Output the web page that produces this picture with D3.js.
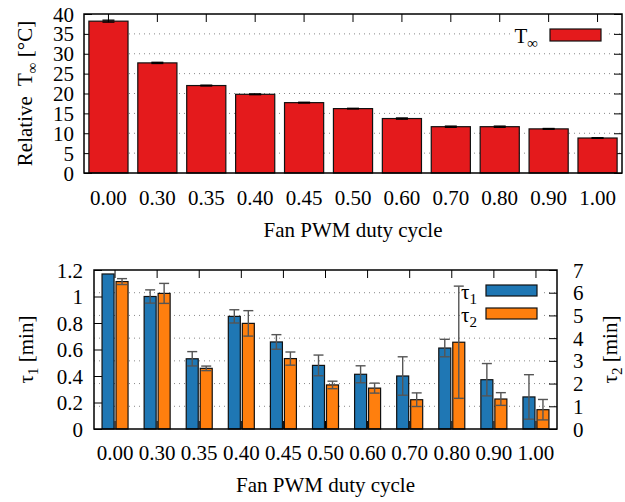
<!DOCTYPE html>
<html>
<head>
<meta charset="utf-8">
<script src="https://cdn.jsdelivr.net/npm/d3@7"></script>
<style>
  html, body { margin: 0; padding: 0; background: #fff; }
  svg { display: block; }
  svg text { font-family: "Liberation Serif", "Tinos", "DejaVu Serif", serif; }
  .grid { stroke: #888; stroke-width: 1; stroke-dasharray: 1 4; }
  .axis text { font-size: 21px; fill: #000; }
  .axis line { stroke: #000; stroke-width: 1; }
  .lbl { font-size: 21px; fill: #000; white-space: pre; }
</style>
</head>
<body>
<script>
// values
const categories = ["0.00", "0.30", "0.35", "0.40", "0.45", "0.50", "0.60", "0.70", "0.80", "0.90", "1.00"];

const tInf = [38.2, 27.7, 22.0, 19.8, 17.7, 16.2, 13.7, 11.65, 11.65, 11.1, 8.8];
const tInfErr = [0.25, 0.15, 0.1, 0.1, 0.1, 0.08, 0.15, 0.15, 0.15, 0.1, 0.08];

const tau1 = [1.17, 1.0, 0.53, 0.85, 0.657, 0.48, 0.413, 0.40, 0.611, 0.372, 0.242];
const tau1Err = [0, 0.05, 0.054, 0.05, 0.055, 0.078, 0.064, 0.145, 0.066, 0.122, 0.168];

const tau2 = [6.49, 5.97, 2.67, 4.65, 3.1, 1.94, 1.8, 1.29, 3.82, 1.32, 0.85];
const tau2Err = [0.13, 0.44, 0.1, 0.56, 0.29, 0.165, 0.22, 0.3, 2.47, 0.28, 0.45];

const tempTicks = [0, 5, 10, 15, 20, 25, 30, 35, 40];
const tau1Ticks = [0, 0.2, 0.4, 0.6, 0.8, 1.0, 1.2];
const tau2Ticks = [0, 1, 2, 3, 4, 5, 6, 7];

(function () {
  "use strict";

  const RED = "#e41a1c";
  const BLUE = "#1f77b4";
  const ORANGE = "#ff7f0e";

  const svg = d3.select("body").append("svg").attr("width", 625).attr("height", 502);

  // text with a subscript part, e.g. T∞ or τ1
  function subText(sel, main, sub, rest) {
    sel.append("tspan").text(main);
    sel.append("tspan").attr("dy", 5).attr("font-size", "15px").text(sub);
    if (rest) sel.append("tspan").attr("dy", -5).text(rest);
    return sel;
  }

  function styleAxis(g) {
    g.attr("class", "axis").attr("font-size", null).attr("font-family", null);
    g.select(".domain").remove();
  }

  function drawTop() {
    const L = 84, R = 622, T = 14, B = 173;
    const x = d3.scaleBand().domain(categories).range([L, R]).paddingInner(0.2).paddingOuter(0.1);
    const y = d3.scaleLinear().domain([0, 40]).range([B, T]);
    const g = svg.append("g");

    g.selectAll("line.grid")
      .data(tempTicks.filter((v) => v > 0 && v < 40))
      .join("line")
      .attr("class", "grid")
      .attr("x1", L).attr("x2", R)
      .attr("y1", (d) => y(d)).attr("y2", (d) => y(d));

    // opaque key background
    g.append("rect").attr("x", 513).attr("y", 24).attr("width", 93).attr("height", 24).attr("fill", "#fff");

    g.append("g").attr("transform", `translate(${L},0)`)
      .call(d3.axisLeft(y).tickValues(tempTicks).tickSize(-8).tickPadding(10).tickFormat(d3.format("d")))
      .call(styleAxis)
      .selectAll("text").attr("dy", 7);
    g.append("g").attr("transform", `translate(${R},0)`)
      .call(d3.axisRight(y).tickValues(tempTicks).tickSize(-8).tickFormat(""))
      .call(styleAxis);
    g.append("g").attr("transform", `translate(0,${T})`)
      .call(d3.axisTop(x).tickSize(-8).tickFormat(""))
      .call(styleAxis);
    g.append("g").attr("transform", `translate(0,${B})`)
      .call(d3.axisBottom(x).tickSize(-8))
      .call(styleAxis)
      .selectAll("text").attr("y", 32).attr("dy", 0);

    g.selectAll("rect.bar")
      .data(tInf)
      .join("rect")
      .attr("class", "bar")
      .attr("x", (d, i) => x(categories[i]))
      .attr("width", x.bandwidth())
      .attr("y", (d) => y(d))
      .attr("height", (d) => B - y(d))
      .attr("fill", RED)
      .attr("stroke", "#111")
      .attr("stroke-width", 1.2);

    const eb = g.selectAll("g.err").data(tInf).join("g")
      .attr("transform", (d, i) => `translate(${x(categories[i]) + x.bandwidth() / 2},0)`)
      .attr("stroke", "#000").attr("stroke-width", 1.3);
    eb.append("line").attr("y1", (d, i) => y(d - tInfErr[i])).attr("y2", (d, i) => y(d + tInfErr[i]));
    eb.append("line").attr("x1", -6).attr("x2", 6).attr("y1", (d, i) => y(d + tInfErr[i])).attr("y2", (d, i) => y(d + tInfErr[i]));
    eb.append("line").attr("x1", -6).attr("x2", 6).attr("y1", (d, i) => y(d - tInfErr[i])).attr("y2", (d, i) => y(d - tInfErr[i]));

    g.append("rect").attr("x", L).attr("y", T).attr("width", R - L).attr("height", B - T)
      .attr("fill", "none").attr("stroke", "#000").attr("stroke-width", 1.5);

    // key
    subText(g.append("text").attr("class", "lbl").attr("x", 538).attr("y", 43).attr("text-anchor", "end"), "T", "∞");
    g.append("rect").attr("x", 550).attr("y", 29).attr("width", 51).attr("height", 12)
      .attr("fill", RED).attr("stroke", "#111").attr("stroke-width", 1.2);

    subText(g.append("text").attr("class", "lbl")
      .attr("transform", `translate(32,${(T + B) / 2}) rotate(-90)`).attr("text-anchor", "middle"),
      "Relative  T", "∞", " [°C]");

    g.append("text").attr("class", "lbl").attr("x", (L + R) / 2).attr("y", 237)
      .attr("text-anchor", "middle").text("Fan PWM duty cycle");
  }

  function drawBottom() {
    const L = 94, R = 557, T = 270, B = 429;
    const x = d3.scaleBand().domain(categories).range([L, R]);
    const sub = d3.scaleBand().domain(["t1", "t2"]).range([-13, 13]).paddingInner(1 / 7);
    const y1 = d3.scaleLinear().domain([0, 1.2]).range([B, T]);
    const y2 = d3.scaleLinear().domain([0, 7]).range([B, T]);
    const g = svg.append("g");

    g.selectAll("line.grid")
      .data(tau2Ticks.filter((v) => v > 0 && v < 7))
      .join("line")
      .attr("class", "grid")
      .attr("x1", L).attr("x2", R)
      .attr("y1", (d) => y2(d)).attr("y2", (d) => y2(d));

    g.append("rect").attr("x", 460).attr("y", 280).attr("width", 81).attr("height", 47).attr("fill", "#fff");

    g.append("g").attr("transform", `translate(${L},0)`)
      .call(d3.axisLeft(y1).tickValues(tau1Ticks).tickSize(-8).tickPadding(11).tickFormat((d) => String(+d.toFixed(1))))
      .call(styleAxis)
      .selectAll("text").attr("dy", 7);
    g.append("g").attr("transform", `translate(${R},0)`)
      .call(d3.axisRight(y2).tickValues(tau2Ticks).tickSize(-8).tickPadding(16).tickFormat(d3.format("d")))
      .call(styleAxis)
      .selectAll("text").attr("dy", 7);
    g.append("g").attr("transform", `translate(0,${T})`)
      .call(d3.axisTop(x).tickSize(-8).tickFormat(""))
      .call(styleAxis);
    g.append("g").attr("transform", `translate(0,${B})`)
      .call(d3.axisBottom(x).tickSize(-8))
      .call(styleAxis)
      .selectAll("text").attr("y", 31).attr("dy", 0);

    const series = [
      { key: "t1", vals: tau1, errs: tau1Err, y: y1, color: BLUE },
      { key: "t2", vals: tau2, errs: tau2Err, y: y2, color: ORANGE },
    ];

    series.forEach((s) => {
      const cx = (i) => x(categories[i]) + x.bandwidth() / 2 + sub(s.key);
      g.append("g").selectAll("rect")
        .data(s.vals)
        .join("rect")
        .attr("x", (d, i) => cx(i))
        .attr("width", sub.bandwidth())
        .attr("y", (d) => s.y(d))
        .attr("height", (d) => B - s.y(d))
        .attr("fill", s.color)
        .attr("stroke", "#111")
        .attr("stroke-width", 1.2);
    });

    series.forEach((s) => {
      const cx = (i) => x(categories[i]) + x.bandwidth() / 2 + sub(s.key) + sub.bandwidth() / 2;
      const data = s.vals.map((v, i) => ({ v, e: s.errs[i], i })).filter((d) => d.e > 0);
      const eb = g.append("g").selectAll("g").data(data).join("g")
        .attr("transform", (d) => `translate(${cx(d.i)},0)`)
        .attr("stroke", "#555").attr("stroke-width", 1.4);
      eb.append("line").attr("y1", (d) => s.y(d.v - d.e)).attr("y2", (d) => s.y(d.v + d.e));
      eb.append("line").attr("x1", -5).attr("x2", 5).attr("y1", (d) => s.y(d.v + d.e)).attr("y2", (d) => s.y(d.v + d.e));
      eb.append("line").attr("x1", -5).attr("x2", 5).attr("y1", (d) => s.y(d.v - d.e)).attr("y2", (d) => s.y(d.v - d.e));
    });

    g.append("rect").attr("x", L).attr("y", T).attr("width", R - L).attr("height", B - T)
      .attr("fill", "none").attr("stroke", "#000").attr("stroke-width", 1.5);

    // key
    subText(g.append("text").attr("class", "lbl").attr("x", 461).attr("y", 299), "τ", "1");
    subText(g.append("text").attr("class", "lbl").attr("x", 461).attr("y", 322), "τ", "2");
    g.append("rect").attr("x", 486).attr("y", 285).attr("width", 51).attr("height", 11)
      .attr("fill", BLUE).attr("stroke", "#111").attr("stroke-width", 1.2);
    g.append("rect").attr("x", 486).attr("y", 308).attr("width", 51).attr("height", 11)
      .attr("fill", ORANGE).attr("stroke", "#111").attr("stroke-width", 1.2);

    subText(g.append("text").attr("class", "lbl")
      .attr("transform", `translate(33,${(T + B) / 2}) rotate(-90)`).attr("text-anchor", "middle"),
      "τ", "1", " [min]");
    subText(g.append("text").attr("class", "lbl")
      .attr("transform", `translate(617,${(T + B) / 2}) rotate(-90)`).attr("text-anchor", "middle"),
      "τ", "2", " [min]");

    g.append("text").attr("class", "lbl").attr("x", (L + R) / 2).attr("y", 492)
      .attr("text-anchor", "middle").text("Fan PWM duty cycle");
  }

  drawTop();
  drawBottom();
})();
</script>
</body>
</html>
